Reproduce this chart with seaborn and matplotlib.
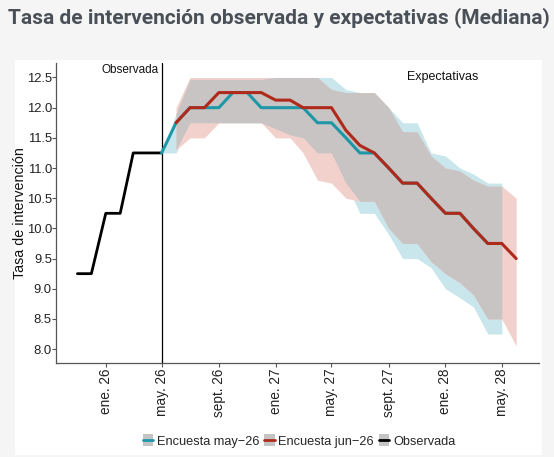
import matplotlib
matplotlib.use("Agg")
import matplotlib.pyplot as plt
from matplotlib.patches import Patch, Rectangle
from matplotlib.lines import Line2D
from matplotlib.legend_handler import HandlerTuple
import numpy as np
import pandas as pd
import seaborn as sns

# --- datos ---
obs_fechas = pd.date_range("2025-11-01", periods=7, freq="MS")
obs_tasa = [9.25, 9.25, 10.25, 10.25, 11.25, 11.25, 11.25]

may_fechas = pd.date_range("2026-05-01", periods=25, freq="MS")
may_mediana = [11.25, 11.75, 12.0, 12.0, 12.0, 12.25, 12.25, 12.0, 12.0, 12.0, 12.0, 11.75, 11.75,
               11.5, 11.25, 11.25, 11.0, 10.75, 10.75, 10.5, 10.25, 10.25, 10.0, 9.75, 9.75]
may_inf = [11.25, 11.25, 11.75, 11.75, 11.75, 11.75, 11.75, 11.75, 11.65, 11.55, 11.5, 11.25, 11.25,
           10.75, 10.25, 10.25, 9.9, 9.5, 9.5, 9.35, 9.0, 8.85, 8.7, 8.25, 8.25]
may_sup = [11.25, 11.9, 12.47, 12.47, 12.47, 12.47, 12.47, 12.47, 12.5, 12.5, 12.5, 12.5, 12.5,
           12.3, 12.25, 12.25, 12.0, 11.75, 11.75, 11.25, 11.2, 11.0, 10.9, 10.75, 10.75]

jun_fechas = pd.date_range("2026-06-01", periods=25, freq="MS")
jun_mediana = [11.75, 12.0, 12.0, 12.25, 12.25, 12.25, 12.25, 12.125, 12.125, 12.0, 12.0, 12.0,
               11.625, 11.375, 11.25, 11.0, 10.75, 10.75, 10.5, 10.25, 10.25, 10.0, 9.75, 9.75, 9.5]
jun_inf = [11.3, 11.5, 11.5, 11.75, 11.75, 11.75, 11.75, 11.5, 11.5, 11.25, 10.8, 10.75,
           10.5, 10.45, 10.45, 10.0, 9.75, 9.75, 9.45, 9.25, 9.1, 8.9, 8.5, 8.5, 8.05]
jun_sup = [12.0, 12.5, 12.5, 12.5, 12.5, 12.5, 12.5, 12.5, 12.5, 12.5, 12.5, 12.3,
           12.25, 12.25, 12.25, 12.0, 11.6, 11.6, 11.2, 11.0, 10.95, 10.8, 10.7, 10.7, 10.5]

ticks = pd.date_range("2026-01-01", periods=8, freq="4MS")
tick_labels = ["ene. 26", "may. 26", "sept. 26", "ene. 27", "may. 27", "sept. 27", "ene. 28", "may. 28"]

TEAL = "#1f97a7"
RED = "#b02a1c"
BLUE_FILL = "#c8e6ec"
RED_FILL = "#f2d1cc"
GREY_FILL = "#c8c4c3"

sns.set_style("white")
plt.rcParams["font.family"] = ["Liberation Sans", "DejaVu Sans"]

fig = plt.figure(figsize=(5.54, 4.57), dpi=100)
fig.patch.set_facecolor("#f5f5f5")
fig.patches.append(Rectangle((15 / 554, 2 / 457), 527 / 554, 395 / 457,
                             transform=fig.transFigure, facecolor="white",
                             edgecolor="none", zorder=-1))
ax = fig.add_axes([56 / 554, 94 / 457, 483 / 554, 300 / 457])
ax.set_zorder(1)
ax.patch.set_alpha(0)

df_may = pd.DataFrame({"fecha": may_fechas, "mediana": may_mediana, "inf": may_inf, "sup": may_sup})
df_jun = pd.DataFrame({"fecha": jun_fechas, "mediana": jun_mediana, "inf": jun_inf, "sup": jun_sup})
df_obs = pd.DataFrame({"fecha": obs_fechas, "tasa": obs_tasa})

# bandas: encuesta mayo, encuesta junio y la zona comun en gris
ax.fill_between(df_may["fecha"], df_may["inf"], df_may["sup"], color=BLUE_FILL, lw=0, zorder=1)
ax.fill_between(df_jun["fecha"], df_jun["inf"], df_jun["sup"], color=RED_FILL, lw=0, zorder=1)
comun = df_may.merge(df_jun, on="fecha", suffixes=("_m", "_j"))
ax.fill_between(comun["fecha"], np.maximum(comun["inf_m"], comun["inf_j"]),
                np.minimum(comun["sup_m"], comun["sup_j"]), color=GREY_FILL, lw=0, zorder=2)

ax.axvline(pd.Timestamp("2026-05-01"), color="black", lw=0.9, zorder=3)

sns.lineplot(data=df_obs, x="fecha", y="tasa", color="black", lw=2.0, ax=ax, zorder=4)
sns.lineplot(data=df_may, x="fecha", y="mediana", color=TEAL, lw=2.2, ax=ax, zorder=5)
sns.lineplot(data=df_jun, x="fecha", y="mediana", color=RED, lw=2.2, ax=ax, zorder=6)

ax.set_xlim(pd.Timestamp("2025-09-16"), pd.Timestamp("2028-07-20"))
ax.set_ylim(7.77, 12.74)
ax.set_yticks(np.arange(8.0, 12.51, 0.5))
ax.set_yticklabels([f"{v:.1f}" for v in np.arange(8.0, 12.51, 0.5)])
ax.set_xticks(ticks)
ax.set_xticklabels(tick_labels, rotation=90)
ax.tick_params(axis="both", which="both", direction="out", length=3, width=0.8,
               color="#555555", labelcolor="#222222", left=True, bottom=True)
ax.tick_params(axis="x", labelsize=9.8, pad=1)
ax.tick_params(axis="y", labelsize=9.4, pad=0)
ax.set_xlabel("")
ax.set_ylabel("Tasa de intervención", fontsize=10.3, color="#111111", labelpad=0)
for s in ["top", "right"]:
    ax.spines[s].set_visible(False)
for s in ["left", "bottom"]:
    ax.spines[s].set_color("#555555")
    ax.spines[s].set_linewidth(0.9)

ax.annotate("Observada", xy=(pd.Timestamp("2026-05-01"), 12.62), xytext=(-2, 0),
            textcoords="offset points", ha="right", va="center", fontsize=8.5, color="#111111")
ax.text(pd.Timestamp("2027-12-25"), 12.5, "Expectativas", ha="center", va="center",
        fontsize=9, color="#111111")

fig.text(8 / 554, 1 - 18 / 457, "Tasa de intervención observada y expectativas (Mediana)",
         fontsize=15, fontweight="bold", color="#4a5058", family="Roboto", va="center", ha="left")

gris_key = "#c4c4c4"
handles = [(Patch(facecolor=gris_key, edgecolor="none"), Line2D([], [], color=c, lw=2))
           for c in [TEAL, RED, "black"]]
fig.legend(handles, ["Encuesta may\u221226", "Encuesta jun\u221226", "Observada"],
           handler_map={tuple: HandlerTuple(ndivide=1)}, loc="center",
           bbox_to_anchor=(299 / 554, 1 - 441 / 457), ncol=3, frameon=False, fontsize=9.2,
           handlelength=0.8, handleheight=1.0, handletextpad=0.3, columnspacing=0.4)

fig.savefig("out.png", dpi=100, facecolor=fig.get_facecolor())
